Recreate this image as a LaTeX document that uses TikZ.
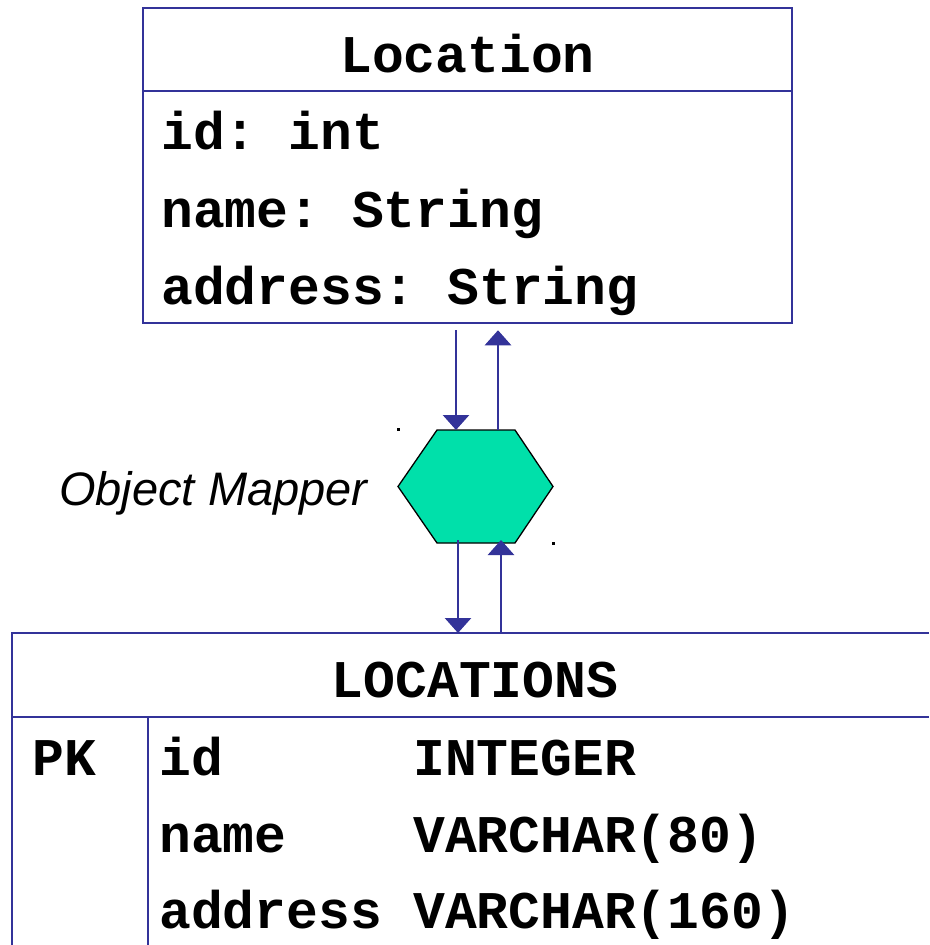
\documentclass[tikz,border=0pt]{standalone}
\usepackage{fontspec}
\usetikzlibrary{arrows.meta}
\newfontfamily\courfont{Liberation Mono}
\newfontfamily\arialfont{Liberation Sans}
\definecolor{umlblue}{RGB}{51,51,153}
\definecolor{mapgreen}{RGB}{0,224,170}
\tikzset{
  boxline/.style={draw=umlblue, line width=2.5pt},
  thinline/.style={draw=umlblue, line width=1.5pt},
  code/.style={font=\courfont\bfseries\frenchspacing\fontsize{53}{60}\selectfont, inner sep=0pt, anchor=base west},
  codehead/.style={font=\courfont\bfseries\frenchspacing\fontsize{53}{60}\selectfont, inner sep=0pt, anchor=base},
  flow/.style={draw=umlblue, line width=2.8pt, -{Triangle[width=26pt,length=15pt]}},
}
\begin{document}
\begin{tikzpicture}[x=1pt, y=-1pt]
\useasboundingbox (0,0) rectangle (929,945);

% class box
\node[boxline, minimum width=649pt, minimum height=315pt, inner sep=0pt] (loc) at (467.5,165.5) {};
\draw[boxline] (143,91) -- (792,91);
\node[codehead] (loctitle) at (467.5,72) {Location};
\node[code] (f1) at (161,149) {id: int};
\node[code] (f2) at (161,227) {name: String};
\node[code] (f3) at (161,304) {address: String};

% mapper hexagon
\node[minimum width=155pt, minimum height=113pt, inner sep=0pt] (hex) at (475.5,486.5) {};
\draw[fill=mapgreen, draw=black, line width=1.3pt]
  (437,430) -- (515,430) -- (553,486.5) -- (515,543) -- (437,543) -- (398,486.5) -- cycle;
\fill[black] (397,428) rectangle (399.5,430.5);
\fill[black] (552,542) rectangle (554.5,544.5);
\node[font=\arialfont\itshape\fontsize{47}{54}\selectfont, inner sep=0pt, anchor=base west] (maplabel) at (59,505) {Object Mapper};

% table
\draw[boxline] (12,945) -- (12,633) -- (929,633);
\draw[boxline] (12,717) -- (929,717);
\draw[thinline] (148,717) -- (148,945);
\coordinate (tabtop) at (475,633);
\node[codehead] (tabtitle) at (475,697) {LOCATIONS};
\node[code] (pk) at (32,775) {PK};
\node[code] (c1) at (159,775) {id};
\node[code] (t1) at (413,775) {INTEGER};
\node[code] (c2) at (159,852) {name};
\node[code] (t2) at (413,852) {VARCHAR(80)};
\node[code] (c3) at (159,928) {address};
\node[code] (t3) at (413,928) {VARCHAR(160)};

% mapping arrows
\draw[flow] ([xshift=-11.5pt,yshift=-6pt]loc.south) -- (456,430);
\draw[flow] (498,430) -- ([xshift=30.5pt,yshift=-6pt]loc.south);
\draw[flow] (458,540) -- (tabtop -| 458,0);
\draw[flow] (tabtop -| 501,0) -- (501,540);
\end{tikzpicture}
\end{document}
